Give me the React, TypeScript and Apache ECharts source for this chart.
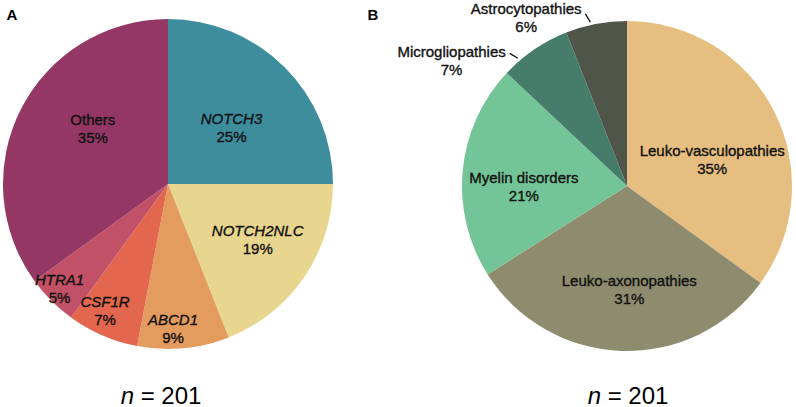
import React, { useEffect, useRef } from "react";
import * as echarts from "echarts";

// ---- data ----
const geneNames = ["NOTCH3", "NOTCH2NLC", "ABCD1", "CSF1R", "HTRA1", "Others"];
const genePercents = [25, 19, 9, 7, 5, 35];
const geneItalic = [true, true, true, true, true, false];

const classNames = [
  "Leuko-vasculopathies",
  "Leuko-axonopathies",
  "Myelin disorders",
  "Microgliopathies",
  "Astrocytopathies",
];
const classPercents = [35, 31, 21, 7, 6];
const classOutside = [false, false, false, true, true];

const panelLabels = ["A", "B"];
const sampleSizes = [201, 201];

// ---- styles / layout ----
const geneColors = ["#3D8D9D", "#E9D68E", "#E49B5E", "#E3664E", "#C25066", "#953764"];
const classColors = ["#E5BE80", "#8E8B6E", "#73C496", "#467D6A", "#505549"];
const leftShift = [[3, 4], [19, 7], [-3, 59], [-29, 48], [-48, 44], [1, -17]];
const rightShift = [[9, 12], [5, 18], [-18, 9], [-19, 18], [-8, 1]];
// leader tick: angular offset from slice mid-angle (deg)
const tickAngleOffset = [0, 0, 0, -6.3, -1.8];
const CENTER_A = [168, 184];
const CENTER_B = [627, 186];
const RADIUS = 165;

const FONT = "'Liberation Sans', Arial, Helvetica, sans-serif";
const base = {
  fontFamily: FONT,
  fontSize: 15,
  color: "#111",
  lineHeight: 18,
  align: "center" as const,
  textBorderColor: "#111",
  textBorderWidth: 0.35,
};

export default function App() {
  const ref = useRef<HTMLDivElement>(null);

  useEffect(() => {
    document.body.style.margin = "0";
    const chart = echarts.init(ref.current!, undefined, { renderer: "svg" });

    const total = classPercents.reduce((a, b) => a + b, 0);
    const midAngle = (i: number) => {
      let before = 0;
      for (let k = 0; k < i; k++) before += classPercents[k];
      return ((before + classPercents[i] / 2) / total) * 360;
    };
    const polar = (deg: number, r: number) => {
      const a = (deg * Math.PI) / 180;
      return [CENTER_B[0] + r * Math.sin(a), CENTER_B[1] - r * Math.cos(a)];
    };

    const option: any = {
      animation: false,
      backgroundColor: "#ffffff",
      graphic: [
        {
          type: "text",
          x: 12,
          y: 14,
          style: {
            text: panelLabels[0],
            font: `bold 15px ${FONT}`,
            fill: "#000",
            align: "center",
            verticalAlign: "middle",
          },
        },
        {
          type: "text",
          x: 373,
          y: 14,
          style: {
            text: panelLabels[1],
            font: `bold 15px ${FONT}`,
            fill: "#000",
            align: "center",
            verticalAlign: "middle",
          },
        },
        ...[161, 628].map((x, i) => ({
          type: "text",
          x,
          y: 395,
          style: {
            text: `{i|n}{r| = ${sampleSizes[i]}}`,
            font: `24px ${FONT}`,
            fill: "#000",
            align: "center",
            verticalAlign: "middle",
            rich: {
              i: { fontStyle: "italic", fontSize: 24, fontFamily: FONT, fill: "#000" },
              r: { fontSize: 24, fontFamily: FONT, fill: "#000" },
            },
          },
        })),
      ],
      series: [
        {
          type: "pie",
          center: CENTER_A,
          radius: RADIUS,
          startAngle: 90,
          clockwise: true,
          silent: true,
          avoidLabelOverlap: false,
          percentPrecision: 0,
          itemStyle: { borderWidth: 0 },
          data: geneNames.map((n, i) => ({
            name: n,
            value: genePercents[i],
            itemStyle: { color: geneColors[i] },
          })),
          label: {
            show: true,
            position: "inside",
            color: "#111",
            formatter: (p: any) =>
              `{${geneItalic[p.dataIndex] ? "g" : "t"}|${p.name}}\n{t|${Math.round(p.percent)}%}`,
            rich: {
              g: { ...base, fontStyle: "italic" },
              t: { ...base },
            },
          },
          labelLine: { show: false },
          labelLayout: (p: any) => ({
            dx: leftShift[p.dataIndex][0],
            dy: leftShift[p.dataIndex][1],
          }),
        },
        {
          type: "pie",
          center: CENTER_B,
          radius: RADIUS,
          startAngle: 90,
          clockwise: true,
          silent: true,
          avoidLabelOverlap: false,
          percentPrecision: 0,
          itemStyle: { borderWidth: 0 },
          data: classNames.map((n, i) => ({
            name: n,
            value: classPercents[i],
            itemStyle: { color: classColors[i] },
            ...(classOutside[i]
              ? {
                  label: { position: "outside", alignTo: "none", distanceToLabelLine: 5 },
                  labelLine: {
                    show: true,
                    length: 8,
                    length2: 0,
                    lineStyle: { color: "#111", width: 1.3 },
                  },
                }
              : {}),
          })),
          label: {
            show: true,
            position: "inside",
            color: "#111",
            formatter: (p: any) => `{t|${p.name}}\n{t|${Math.round(p.percent)}%}`,
            rich: { t: { ...base } },
          },
          labelLine: { show: false },
          labelLayout: (p: any) => {
            const i = p.dataIndex;
            const out: any = { dx: rightShift[i][0], dy: rightShift[i][1] };
            if (classOutside[i]) {
              const ang = midAngle(i) + tickAngleOffset[i];
              const p1 = polar(ang, RADIUS + 3);
              const p2 = polar(ang - 1, RADIUS + 12);
              out.labelLinePoints = [p1, p2, p2];
            }
            return out;
          },
        },
      ],
    };

    chart.setOption(option);
    return () => chart.dispose();
  }, []);

  return (
    <div
      ref={ref}
      style={{ position: "fixed", left: 0, top: 0, width: 796, height: 407 }}
    />
  );
}
